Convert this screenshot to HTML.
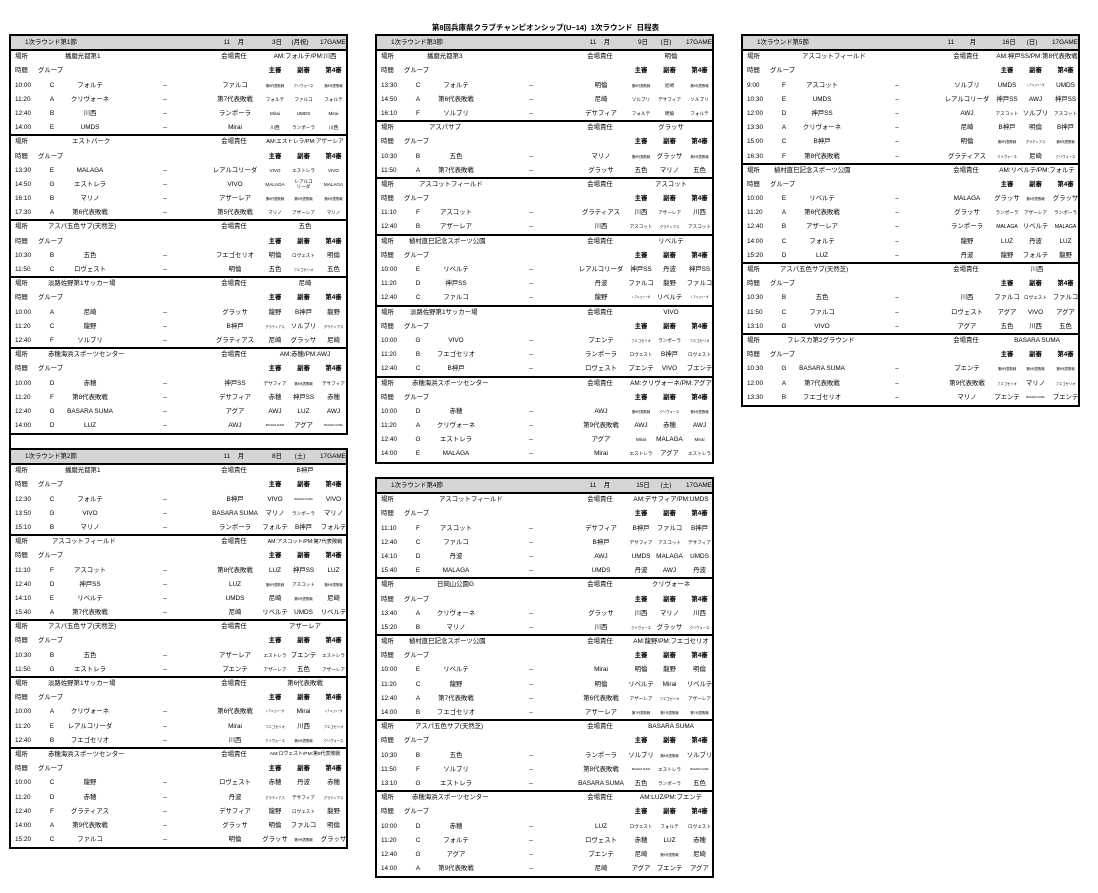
<!DOCTYPE html>
<html lang="ja">
<head>
<meta charset="utf-8">
<style>
html,body{margin:0;padding:0;background:#fff}
body{width:1098px;height:893px;position:relative;overflow:hidden;font-family:"Liberation Sans","Noto Sans CJK JP",sans-serif;font-size:6.4px;color:#000}
.T{position:absolute;width:335px;border:2px solid #000;overflow:hidden;background:#fff}
.hd{position:relative;height:14.2px;background:#d5d5d5}
.hd::after{content:"";position:absolute;left:0;right:0;bottom:-1px;height:2px;background:#000}
.r{position:relative;height:14.2px}
.k::before{content:"";position:absolute;left:0;right:0;top:-1px;height:2px;background:#000}
i{position:absolute;top:0;line-height:14.2px;font-style:normal;white-space:nowrap}
.t{left:4px}
.g,.h,.d,.a,.x,.y,.z,.vl,.vv,.mo,.mm,.dd,.wd{transform:translateX(-50%)}
.g{left:41px}.h{left:79px}.d{left:154px}.a{left:224px}.x{left:264px}.y{left:292.5px}.z{left:322.5px}
.gl{left:27px}.vl{left:223px}.vv{left:294px}
.n{left:14px}.mo{left:216px}.mm{left:230px}.dd{left:266px}.wd{left:289px}.gm{left:309px}
.b{font-weight:bold}
.q{font-size:4.6px}.w{font-size:3.3px}.e{font-size:2.6px}
.title{position:absolute;left:0;width:1091px;top:22px;line-height:11px;text-align:center;font-weight:bold;font-size:7.5px}
</style>
</head>
<body>
<div class="title">第8回兵庫県クラブチャンピオンシップ(U−14)&nbsp;&nbsp;1次ラウンド&nbsp;&nbsp;日程表</div>

<!-- L1 -->
<div class="T" style="left:9px;top:34px">
<div class="hd"><i class="n">1次ラウンド第1節</i><i class="mo">11</i><i class="mm">月</i><i class="dd">3日</i><i class="wd">(月祝)</i><i class="gm">17GAME</i></div>
<div class="r"><i class="t">場所</i><i style="left:54px">播磨光都第1</i><i class="vl">会場責任</i><i class="vv">AM:フォルテ/PM:川西</i></div>
<div class="r"><i class="t">時間</i><i class="gl">グループ</i><i class="x b">主審</i><i class="y b">副審</i><i class="z b">第4審</i></div>
<div class="r"><i class="t">10:00</i><i class="g">C</i><i class="h">フォルテ</i><i class="d">–</i><i class="a">ファルコ</i><i class="x w">第8代表敗戦</i><i class="y w">クリヴォーネ</i><i class="z w">第8代表敗戦</i></div>
<div class="r"><i class="t">11:20</i><i class="g">A</i><i class="h">クリヴォーネ</i><i class="d">–</i><i class="a">第7代表敗戦</i><i class="x q">フォルテ</i><i class="y q">ファルコ</i><i class="z q">フォルテ</i></div>
<div class="r"><i class="t">12:40</i><i class="g">B</i><i class="h">川西</i><i class="d">–</i><i class="a">ランポーラ</i><i class="x q">Mirai</i><i class="y q">UMDS</i><i class="z q">Mirai</i></div>
<div class="r"><i class="t">14:00</i><i class="g">E</i><i class="h">UMDS</i><i class="d">–</i><i class="a">Mirai</i><i class="x q">川西</i><i class="y q">ランポーラ</i><i class="z q">川西</i></div>
<div class="r k"><i class="t">場所</i><i style="left:61px">エストパーク</i><i class="vl">会場責任</i><i class="vv" style="font-size:5.6px">AM:エストレラ/PM:アザーレア</i></div>
<div class="r"><i class="t">時間</i><i class="gl">グループ</i><i class="x b">主審</i><i class="y b">副審</i><i class="z b">第4審</i></div>
<div class="r"><i class="t">13:30</i><i class="g">E</i><i class="h">MALAGA</i><i class="d">–</i><i class="a">レアルコリーダ</i><i class="x q">VIVO</i><i class="y q">エストレラ</i><i class="z q">VIVO</i></div>
<div class="r"><i class="t">14:50</i><i class="g">G</i><i class="h">エストレラ</i><i class="d">–</i><i class="a">VIVO</i><i class="x q">MALAGA</i><i class="y q" style="line-height:4.6px;top:2.5px;text-align:center">レアルコ<br>リーダ</i><i class="z q">MALAGA</i></div>
<div class="r"><i class="t">16:10</i><i class="g">B</i><i class="h">マリノ</i><i class="d">–</i><i class="a">アザーレア</i><i class="x w">第8代表敗戦</i><i class="y w">第8代表敗戦</i><i class="z w">第8代表敗戦</i></div>
<div class="r"><i class="t">17:30</i><i class="g">A</i><i class="h">第6代表敗戦</i><i class="d">–</i><i class="a">第5代表敗戦</i><i class="x q">マリノ</i><i class="y q">アザーレア</i><i class="z q">マリノ</i></div>
<div class="r k"><i class="t">場所</i><i style="left:37px">アスパ五色サブ(天然芝)</i><i class="vl">会場責任</i><i class="vv">五色</i></div>
<div class="r"><i class="t">時間</i><i class="gl">グループ</i><i class="x b">主審</i><i class="y b">副審</i><i class="z b">第4審</i></div>
<div class="r"><i class="t">10:30</i><i class="g">B</i><i class="h">五色</i><i class="d">–</i><i class="a">フエゴセリオ</i><i class="x">明倫</i><i class="y q">ロヴェスト</i><i class="z">明倫</i></div>
<div class="r"><i class="t">11:50</i><i class="g">C</i><i class="h">ロヴェスト</i><i class="d">–</i><i class="a">明倫</i><i class="x">五色</i><i class="y w">フエゴセリオ</i><i class="z">五色</i></div>
<div class="r k"><i class="t">場所</i><i style="left:37px">淡路佐野第1サッカー場</i><i class="vl">会場責任</i><i class="vv">尼崎</i></div>
<div class="r"><i class="t">時間</i><i class="gl">グループ</i><i class="x b">主審</i><i class="y b">副審</i><i class="z b">第4審</i></div>
<div class="r"><i class="t">10:00</i><i class="g">A</i><i class="h">尼崎</i><i class="d">–</i><i class="a">グラッサ</i><i class="x">龍野</i><i class="y">B神戸</i><i class="z">龍野</i></div>
<div class="r"><i class="t">11:20</i><i class="g">C</i><i class="h">龍野</i><i class="d">–</i><i class="a">B神戸</i><i class="x w">グラティアス</i><i class="y">ソルブリ</i><i class="z w">グラティアス</i></div>
<div class="r"><i class="t">12:40</i><i class="g">F</i><i class="h">ソルブリ</i><i class="d">–</i><i class="a">グラティアス</i><i class="x">尼崎</i><i class="y">グラッサ</i><i class="z">尼崎</i></div>
<div class="r k"><i class="t">場所</i><i style="left:37px">赤穂海浜スポーツセンター</i><i class="vl">会場責任</i><i class="vv">AM:赤穂/PM:AWJ</i></div>
<div class="r"><i class="t">時間</i><i class="gl">グループ</i><i class="x b">主審</i><i class="y b">副審</i><i class="z b">第4審</i></div>
<div class="r"><i class="t">10:00</i><i class="g">D</i><i class="h">赤穂</i><i class="d">–</i><i class="a">神戸SS</i><i class="x q">デサフィア</i><i class="y w">第8代表敗戦</i><i class="z q">デサフィア</i></div>
<div class="r"><i class="t">11:20</i><i class="g">F</i><i class="h">第8代表敗戦</i><i class="d">–</i><i class="a">デサフィア</i><i class="x">赤穂</i><i class="y">神戸SS</i><i class="z">赤穂</i></div>
<div class="r"><i class="t">12:40</i><i class="g">G</i><i class="h">BASARA SUMA</i><i class="d">–</i><i class="a">アグア</i><i class="x">AWJ</i><i class="y">LUZ</i><i class="z">AWJ</i></div>
<div class="r"><i class="t">14:00</i><i class="g">D</i><i class="h">LUZ</i><i class="d">–</i><i class="a">AWJ</i><i class="x e">BASARA SUMA</i><i class="y">アグア</i><i class="z e">BASARA SUMA</i></div>
</div>
<div style="position:absolute;left:9px;top:435px;width:2px;height:14px;background:#000"></div>

<!-- L2 -->
<div class="T" style="left:9px;top:448px">
<div class="hd"><i class="n">1次ラウンド第2節</i><i class="mo">11</i><i class="mm">月</i><i class="dd">8日</i><i class="wd">(土)</i><i class="gm">17GAME</i></div>
<div class="r"><i class="t">場所</i><i style="left:54px">播磨光都第1</i><i class="vl">会場責任</i><i class="vv">B神戸</i></div>
<div class="r"><i class="t">時間</i><i class="gl">グループ</i><i class="x b">主審</i><i class="y b">副審</i><i class="z b">第4審</i></div>
<div class="r"><i class="t">12:30</i><i class="g">C</i><i class="h">フォルテ</i><i class="d">–</i><i class="a">B神戸</i><i class="x">VIVO</i><i class="y e">BASARA SUMA</i><i class="z">VIVO</i></div>
<div class="r"><i class="t">13:50</i><i class="g">G</i><i class="h">VIVO</i><i class="d">–</i><i class="a">BASARA SUMA</i><i class="x">マリノ</i><i class="y q">ランポーラ</i><i class="z">マリノ</i></div>
<div class="r"><i class="t">15:10</i><i class="g">B</i><i class="h">マリノ</i><i class="d">–</i><i class="a">ランポーラ</i><i class="x">フォルテ</i><i class="y">B神戸</i><i class="z">フォルテ</i></div>
<div class="r k"><i class="t">場所</i><i style="left:41px">アスコットフィールド</i><i class="vl">会場責任</i><i class="vv" style="font-size:5.2px">AM:アスコット/PM:第7代表敗戦</i></div>
<div class="r"><i class="t">時間</i><i class="gl">グループ</i><i class="x b">主審</i><i class="y b">副審</i><i class="z b">第4審</i></div>
<div class="r"><i class="t">11:10</i><i class="g">F</i><i class="h">アスコット</i><i class="d">–</i><i class="a">第8代表敗戦</i><i class="x">LUZ</i><i class="y">神戸SS</i><i class="z">LUZ</i></div>
<div class="r"><i class="t">12:40</i><i class="g">D</i><i class="h">神戸SS</i><i class="d">–</i><i class="a">LUZ</i><i class="x w">第8代表敗戦</i><i class="y q">アスコット</i><i class="z w">第8代表敗戦</i></div>
<div class="r"><i class="t">14:10</i><i class="g">E</i><i class="h">リベルテ</i><i class="d">–</i><i class="a">UMDS</i><i class="x">尼崎</i><i class="y w">第8代表敗戦</i><i class="z">尼崎</i></div>
<div class="r"><i class="t">15:40</i><i class="g">A</i><i class="h">第7代表敗戦</i><i class="d">–</i><i class="a">尼崎</i><i class="x">リベルテ</i><i class="y">UMDS</i><i class="z">リベルテ</i></div>
<div class="r k"><i class="t">場所</i><i style="left:37px">アスパ五色サブ(天然芝)</i><i class="vl">会場責任</i><i class="vv">アザーレア</i></div>
<div class="r"><i class="t">時間</i><i class="gl">グループ</i><i class="x b">主審</i><i class="y b">副審</i><i class="z b">第4審</i></div>
<div class="r"><i class="t">10:30</i><i class="g">B</i><i class="h">五色</i><i class="d">–</i><i class="a">アザーレア</i><i class="x q">エストレラ</i><i class="y">プエンテ</i><i class="z q">エストレラ</i></div>
<div class="r"><i class="t">11:50</i><i class="g">G</i><i class="h">エストレラ</i><i class="d">–</i><i class="a">プエンテ</i><i class="x q">アザーレア</i><i class="y">五色</i><i class="z q">アザーレア</i></div>
<div class="r k"><i class="t">場所</i><i style="left:37px">淡路佐野第1サッカー場</i><i class="vl">会場責任</i><i class="vv">第6代表敗戦</i></div>
<div class="r"><i class="t">時間</i><i class="gl">グループ</i><i class="x b">主審</i><i class="y b">副審</i><i class="z b">第4審</i></div>
<div class="r"><i class="t">10:00</i><i class="g">A</i><i class="h">クリヴォーネ</i><i class="d">–</i><i class="a">第6代表敗戦</i><i class="x e">レアルコリーダ</i><i class="y">Mirai</i><i class="z e">レアルコリーダ</i></div>
<div class="r"><i class="t">11:20</i><i class="g">E</i><i class="h">レアルコリーダ</i><i class="d">–</i><i class="a">Mirai</i><i class="x w">フエゴセリオ</i><i class="y">川西</i><i class="z w">フエゴセリオ</i></div>
<div class="r"><i class="t">12:40</i><i class="g">B</i><i class="h">フエゴセリオ</i><i class="d">–</i><i class="a">川西</i><i class="x w">クリヴォーネ</i><i class="y w">第6代表敗戦</i><i class="z w">クリヴォーネ</i></div>
<div class="r k"><i class="t">場所</i><i style="left:37px">赤穂海浜スポーツセンター</i><i class="vl">会場責任</i><i class="vv" style="font-size:4.9px">AM:ロヴェスト/PM:第9代表敗戦</i></div>
<div class="r"><i class="t">時間</i><i class="gl">グループ</i><i class="x b">主審</i><i class="y b">副審</i><i class="z b">第4審</i></div>
<div class="r"><i class="t">10:00</i><i class="g">C</i><i class="h">龍野</i><i class="d">–</i><i class="a">ロヴェスト</i><i class="x">赤穂</i><i class="y">丹波</i><i class="z">赤穂</i></div>
<div class="r"><i class="t">11:20</i><i class="g">D</i><i class="h">赤穂</i><i class="d">–</i><i class="a">丹波</i><i class="x w">グラティアス</i><i class="y q">デサフィア</i><i class="z w">グラティアス</i></div>
<div class="r"><i class="t">12:40</i><i class="g">F</i><i class="h">グラティアス</i><i class="d">–</i><i class="a">デサフィア</i><i class="x">龍野</i><i class="y q">ロヴェスト</i><i class="z">龍野</i></div>
<div class="r"><i class="t">14:00</i><i class="g">A</i><i class="h">第9代表敗戦</i><i class="d">–</i><i class="a">グラッサ</i><i class="x">明倫</i><i class="y">ファルコ</i><i class="z">明倫</i></div>
<div class="r"><i class="t">15:20</i><i class="g">C</i><i class="h">ファルコ</i><i class="d">–</i><i class="a">明倫</i><i class="x">グラッサ</i><i class="y w">第9代表敗戦</i><i class="z">グラッサ</i></div>
</div>

<!-- M1 -->
<div class="T" style="left:375px;top:34px">
<div class="hd"><i class="n">1次ラウンド第3節</i><i class="mo">11</i><i class="mm">月</i><i class="dd">9日</i><i class="wd">(日)</i><i class="gm">17GAME</i></div>
<div class="r"><i class="t">場所</i><i style="left:50px">播磨光都第3</i><i class="vl">会場責任</i><i class="vv">明倫</i></div>
<div class="r"><i class="t">時間</i><i class="gl">グループ</i><i class="x b">主審</i><i class="y b">副審</i><i class="z b">第4審</i></div>
<div class="r"><i class="t">13:30</i><i class="g">C</i><i class="h">フォルテ</i><i class="d">–</i><i class="a">明倫</i><i class="x w">第8代表敗戦</i><i class="y q">尼崎</i><i class="z w">第8代表敗戦</i></div>
<div class="r"><i class="t">14:50</i><i class="g">A</i><i class="h">第6代表敗戦</i><i class="d">–</i><i class="a">尼崎</i><i class="x q">ソルブリ</i><i class="y q">デサフィア</i><i class="z q">ソルブリ</i></div>
<div class="r"><i class="t">16:10</i><i class="g">F</i><i class="h">ソルブリ</i><i class="d">–</i><i class="a">デサフィア</i><i class="x q">フォルテ</i><i class="y q">明倫</i><i class="z q">フォルテ</i></div>
<div class="r k"><i class="t">場所</i><i style="left:52px">アスパサブ</i><i class="vl">会場責任</i><i class="vv">グラッサ</i></div>
<div class="r"><i class="t">時間</i><i class="gl">グループ</i><i class="x b">主審</i><i class="y b">副審</i><i class="z b">第4審</i></div>
<div class="r"><i class="t">10:30</i><i class="g">B</i><i class="h">五色</i><i class="d">–</i><i class="a">マリノ</i><i class="x w">第8代表敗戦</i><i class="y">グラッサ</i><i class="z w">第8代表敗戦</i></div>
<div class="r"><i class="t">11:50</i><i class="g">A</i><i class="h">第7代表敗戦</i><i class="d">–</i><i class="a">グラッサ</i><i class="x">五色</i><i class="y">マリノ</i><i class="z">五色</i></div>
<div class="r k"><i class="t">場所</i><i style="left:42px">アスコットフィールド</i><i class="vl">会場責任</i><i class="vv">アスコット</i></div>
<div class="r"><i class="t">時間</i><i class="gl">グループ</i><i class="x b">主審</i><i class="y b">副審</i><i class="z b">第4審</i></div>
<div class="r"><i class="t">11:10</i><i class="g">F</i><i class="h">アスコット</i><i class="d">–</i><i class="a">グラティアス</i><i class="x">川西</i><i class="y q">アザーレア</i><i class="z">川西</i></div>
<div class="r"><i class="t">12:40</i><i class="g">B</i><i class="h">アザーレア</i><i class="d">–</i><i class="a">川西</i><i class="x q">アスコット</i><i class="y w">グラティアス</i><i class="z q">アスコット</i></div>
<div class="r k"><i class="t">場所</i><i style="left:32px">植村直巳記念スポーツ公園</i><i class="vl">会場責任</i><i class="vv">リベルテ</i></div>
<div class="r"><i class="t">時間</i><i class="gl">グループ</i><i class="x b">主審</i><i class="y b">副審</i><i class="z b">第4審</i></div>
<div class="r"><i class="t">10:00</i><i class="g">E</i><i class="h">リベルテ</i><i class="d">–</i><i class="a">レアルコリーダ</i><i class="x">神戸SS</i><i class="y">丹波</i><i class="z">神戸SS</i></div>
<div class="r"><i class="t">11:20</i><i class="g">D</i><i class="h">神戸SS</i><i class="d">–</i><i class="a">丹波</i><i class="x">ファルコ</i><i class="y">龍野</i><i class="z">ファルコ</i></div>
<div class="r"><i class="t">12:40</i><i class="g">C</i><i class="h">ファルコ</i><i class="d">–</i><i class="a">龍野</i><i class="x e">レアルコリーダ</i><i class="y">リベルテ</i><i class="z e">レアルコリーダ</i></div>
<div class="r k"><i class="t">場所</i><i style="left:33px">淡路佐野第1サッカー場</i><i class="vl">会場責任</i><i class="vv">VIVO</i></div>
<div class="r"><i class="t">時間</i><i class="gl">グループ</i><i class="x b">主審</i><i class="y b">副審</i><i class="z b">第4審</i></div>
<div class="r"><i class="t">10:00</i><i class="g">G</i><i class="h">VIVO</i><i class="d">–</i><i class="a">プエンテ</i><i class="x w">フエゴセリオ</i><i class="y q">ランポーラ</i><i class="z w">フエゴセリオ</i></div>
<div class="r"><i class="t">11:20</i><i class="g">B</i><i class="h">フエゴセリオ</i><i class="d">–</i><i class="a">ランポーラ</i><i class="x q">ロヴェスト</i><i class="y">B神戸</i><i class="z q">ロヴェスト</i></div>
<div class="r"><i class="t">12:40</i><i class="g">C</i><i class="h">B神戸</i><i class="d">–</i><i class="a">ロヴェスト</i><i class="x">プエンテ</i><i class="y">VIVO</i><i class="z">プエンテ</i></div>
<div class="r k"><i class="t">場所</i><i style="left:35px">赤穂海浜スポーツセンター</i><i class="vl">会場責任</i><i class="vv">AM:クリヴォーネ/PM:アグア</i></div>
<div class="r"><i class="t">時間</i><i class="gl">グループ</i><i class="x b">主審</i><i class="y b">副審</i><i class="z b">第4審</i></div>
<div class="r"><i class="t">10:00</i><i class="g">D</i><i class="h">赤穂</i><i class="d">–</i><i class="a">AWJ</i><i class="x w">第8代表敗戦</i><i class="y w">クリヴォーネ</i><i class="z w">第8代表敗戦</i></div>
<div class="r"><i class="t">11:20</i><i class="g">A</i><i class="h">クリヴォーネ</i><i class="d">–</i><i class="a">第9代表敗戦</i><i class="x">AWJ</i><i class="y">赤穂</i><i class="z">AWJ</i></div>
<div class="r"><i class="t">12:40</i><i class="g">G</i><i class="h">エストレラ</i><i class="d">–</i><i class="a">アグア</i><i class="x q">Mirai</i><i class="y">MALAGA</i><i class="z q">Mirai</i></div>
<div class="r"><i class="t">14:00</i><i class="g">E</i><i class="h">MALAGA</i><i class="d">–</i><i class="a">Mirai</i><i class="x q">エストレラ</i><i class="y">アグア</i><i class="z q">エストレラ</i></div>
</div>

<!-- M2 -->
<div class="T" style="left:375px;top:477px">
<div class="hd"><i class="n">1次ラウンド第4節</i><i class="mo">11</i><i class="mm">月</i><i class="dd">15日</i><i class="wd">(土)</i><i class="gm">17GAME</i></div>
<div class="r"><i class="t">場所</i><i style="left:62px">アスコットフィールド</i><i class="vl">会場責任</i><i class="vv">AM:デサフィア/PM:UMDS</i></div>
<div class="r"><i class="t">時間</i><i class="gl">グループ</i><i class="x b">主審</i><i class="y b">副審</i><i class="z b">第4審</i></div>
<div class="r"><i class="t">11:10</i><i class="g">F</i><i class="h">アスコット</i><i class="d">–</i><i class="a">デサフィア</i><i class="x">B神戸</i><i class="y">ファルコ</i><i class="z">B神戸</i></div>
<div class="r"><i class="t">12:40</i><i class="g">C</i><i class="h">ファルコ</i><i class="d">–</i><i class="a">B神戸</i><i class="x q">デサフィア</i><i class="y q">アスコット</i><i class="z q">デサフィア</i></div>
<div class="r"><i class="t">14:10</i><i class="g">D</i><i class="h">丹波</i><i class="d">–</i><i class="a">AWJ</i><i class="x">UMDS</i><i class="y">MALAGA</i><i class="z">UMDS</i></div>
<div class="r"><i class="t">15:40</i><i class="g">E</i><i class="h">MALAGA</i><i class="d">–</i><i class="a">UMDS</i><i class="x">丹波</i><i class="y">AWJ</i><i class="z">丹波</i></div>
<div class="r k"><i class="t">場所</i><i style="left:60px">日岡山公園G</i><i class="vl">会場責任</i><i class="vv">クリヴォーネ</i></div>
<div class="r"><i class="t">時間</i><i class="gl">グループ</i><i class="x b">主審</i><i class="y b">副審</i><i class="z b">第4審</i></div>
<div class="r"><i class="t">13:40</i><i class="g">A</i><i class="h">クリヴォーネ</i><i class="d">–</i><i class="a">グラッサ</i><i class="x">川西</i><i class="y">マリノ</i><i class="z">川西</i></div>
<div class="r"><i class="t">15:20</i><i class="g">B</i><i class="h">マリノ</i><i class="d">–</i><i class="a">川西</i><i class="x w">クリヴォーネ</i><i class="y">グラッサ</i><i class="z w">クリヴォーネ</i></div>
<div class="r k"><i class="t">場所</i><i style="left:32px">植村直巳記念スポーツ公園</i><i class="vl">会場責任</i><i class="vv">AM:龍野/PM:フエゴセリオ</i></div>
<div class="r"><i class="t">時間</i><i class="gl">グループ</i><i class="x b">主審</i><i class="y b">副審</i><i class="z b">第4審</i></div>
<div class="r"><i class="t">10:00</i><i class="g">E</i><i class="h">リベルテ</i><i class="d">–</i><i class="a">Mirai</i><i class="x">明倫</i><i class="y">龍野</i><i class="z">明倫</i></div>
<div class="r"><i class="t">11:20</i><i class="g">C</i><i class="h">龍野</i><i class="d">–</i><i class="a">明倫</i><i class="x">リベルテ</i><i class="y">Mirai</i><i class="z">リベルテ</i></div>
<div class="r"><i class="t">12:40</i><i class="g">A</i><i class="h">第7代表敗戦</i><i class="d">–</i><i class="a">第6代表敗戦</i><i class="x q">アザーレア</i><i class="y w">フエゴセリオ</i><i class="z q">アザーレア</i></div>
<div class="r"><i class="t">14:00</i><i class="g">B</i><i class="h">フエゴセリオ</i><i class="d">–</i><i class="a">アザーレア</i><i class="x w">第7代表敗戦</i><i class="y w">第7代表敗戦</i><i class="z w">第7代表敗戦</i></div>
<div class="r k"><i class="t">場所</i><i style="left:38px">アスパ五色サブ(天然芝)</i><i class="vl">会場責任</i><i class="vv">BASARA SUMA</i></div>
<div class="r"><i class="t">時間</i><i class="gl">グループ</i><i class="x b">主審</i><i class="y b">副審</i><i class="z b">第4審</i></div>
<div class="r"><i class="t">10:30</i><i class="g">B</i><i class="h">五色</i><i class="d">–</i><i class="a">ランポーラ</i><i class="x">ソルブリ</i><i class="y w">第8代表敗戦</i><i class="z">ソルブリ</i></div>
<div class="r"><i class="t">11:50</i><i class="g">F</i><i class="h">ソルブリ</i><i class="d">–</i><i class="a">第8代表敗戦</i><i class="x e">BASARA SUMA</i><i class="y q">エストレラ</i><i class="z e">BASARA SUMA</i></div>
<div class="r"><i class="t">13:10</i><i class="g">G</i><i class="h">エストレラ</i><i class="d">–</i><i class="a">BASARA SUMA</i><i class="x">五色</i><i class="y q">ランポーラ</i><i class="z">五色</i></div>
<div class="r k"><i class="t">場所</i><i style="left:35px">赤穂海浜スポーツセンター</i><i class="vl">会場責任</i><i class="vv">AM:LUZ/PM:プエンテ</i></div>
<div class="r"><i class="t">時間</i><i class="gl">グループ</i><i class="x b">主審</i><i class="y b">副審</i><i class="z b">第4審</i></div>
<div class="r"><i class="t">10:00</i><i class="g">D</i><i class="h">赤穂</i><i class="d">–</i><i class="a">LUZ</i><i class="x q">ロヴェスト</i><i class="y q">フォルテ</i><i class="z q">ロヴェスト</i></div>
<div class="r"><i class="t">11:20</i><i class="g">C</i><i class="h">フォルテ</i><i class="d">–</i><i class="a">ロヴェスト</i><i class="x">赤穂</i><i class="y">LUZ</i><i class="z">赤穂</i></div>
<div class="r"><i class="t">12:40</i><i class="g">G</i><i class="h">アグア</i><i class="d">–</i><i class="a">プエンテ</i><i class="x">尼崎</i><i class="y w">第9代表敗戦</i><i class="z">尼崎</i></div>
<div class="r"><i class="t">14:00</i><i class="g">A</i><i class="h">第9代表敗戦</i><i class="d">–</i><i class="a">尼崎</i><i class="x">アグア</i><i class="y">プエンテ</i><i class="z">アグア</i></div>
</div>

<!-- R -->
<div class="T" style="left:741px;top:34px">
<div class="hd"><i class="n">1次ラウンド第5節</i><i class="mo" style="left:208px">11</i><i class="mm">月</i><i class="dd">16日</i><i class="wd">(日)</i><i class="gm">17GAME</i></div>
<div class="r"><i class="t">場所</i><i style="left:59px">アスコットフィールド</i><i class="vl">会場責任</i><i class="vv">AM:神戸SS/PM:第8代表敗戦</i></div>
<div class="r"><i class="t">時間</i><i class="gl">グループ</i><i class="x b">主審</i><i class="y b">副審</i><i class="z b">第4審</i></div>
<div class="r"><i class="t">9:00</i><i class="g">F</i><i class="h">アスコット</i><i class="d">–</i><i class="a">ソルブリ</i><i class="x">UMDS</i><i class="y e">レアルコリーダ</i><i class="z">UMDS</i></div>
<div class="r"><i class="t">10:30</i><i class="g">E</i><i class="h">UMDS</i><i class="d">–</i><i class="a">レアルコリーダ</i><i class="x">神戸SS</i><i class="y">AWJ</i><i class="z">神戸SS</i></div>
<div class="r"><i class="t">12:00</i><i class="g">D</i><i class="h">神戸SS</i><i class="d">–</i><i class="a">AWJ</i><i class="x q">アスコット</i><i class="y">ソルブリ</i><i class="z q">アスコット</i></div>
<div class="r"><i class="t">13:30</i><i class="g">A</i><i class="h">クリヴォーネ</i><i class="d">–</i><i class="a">尼崎</i><i class="x">B神戸</i><i class="y">明倫</i><i class="z">B神戸</i></div>
<div class="r"><i class="t">15:00</i><i class="g">C</i><i class="h">B神戸</i><i class="d">–</i><i class="a">明倫</i><i class="x w">第8代表敗戦</i><i class="y w">グラティアス</i><i class="z w">第8代表敗戦</i></div>
<div class="r"><i class="t">16:30</i><i class="g">F</i><i class="h">第8代表敗戦</i><i class="d">–</i><i class="a">グラティアス</i><i class="x w">クリヴォーネ</i><i class="y">尼崎</i><i class="z w">クリヴォーネ</i></div>
<div class="r k"><i class="t">場所</i><i style="left:31px">植村直巳記念スポーツ公園</i><i class="vl">会場責任</i><i class="vv">AM:リベルテ/PM:フォルテ</i></div>
<div class="r"><i class="t">時間</i><i class="gl">グループ</i><i class="x b">主審</i><i class="y b">副審</i><i class="z b">第4審</i></div>
<div class="r"><i class="t">10:00</i><i class="g">E</i><i class="h">リベルテ</i><i class="d">–</i><i class="a">MALAGA</i><i class="x">グラッサ</i><i class="y w">第6代表敗戦</i><i class="z">グラッサ</i></div>
<div class="r"><i class="t">11:20</i><i class="g">A</i><i class="h">第6代表敗戦</i><i class="d">–</i><i class="a">グラッサ</i><i class="x q">ランポーラ</i><i class="y q">アザーレア</i><i class="z q">ランポーラ</i></div>
<div class="r"><i class="t">12:40</i><i class="g">B</i><i class="h">アザーレア</i><i class="d">–</i><i class="a">ランポーラ</i><i class="x" style="font-size:5.2px">MALAGA</i><i class="y">リベルテ</i><i class="z" style="font-size:5.2px">MALAGA</i></div>
<div class="r"><i class="t">14:00</i><i class="g">C</i><i class="h">フォルテ</i><i class="d">–</i><i class="a">龍野</i><i class="x">LUZ</i><i class="y">丹波</i><i class="z">LUZ</i></div>
<div class="r"><i class="t">15:20</i><i class="g">D</i><i class="h">LUZ</i><i class="d">–</i><i class="a">丹波</i><i class="x">龍野</i><i class="y">フォルテ</i><i class="z">龍野</i></div>
<div class="r k"><i class="t">場所</i><i style="left:37px">アスパ五色サブ(天然芝)</i><i class="vl">会場責任</i><i class="vv">川西</i></div>
<div class="r"><i class="t">時間</i><i class="gl">グループ</i><i class="x b">主審</i><i class="y b">副審</i><i class="z b">第4審</i></div>
<div class="r"><i class="t">10:30</i><i class="g">B</i><i class="h">五色</i><i class="d">–</i><i class="a">川西</i><i class="x">ファルコ</i><i class="y q">ロヴェスト</i><i class="z">ファルコ</i></div>
<div class="r"><i class="t">11:50</i><i class="g">C</i><i class="h">ファルコ</i><i class="d">–</i><i class="a">ロヴェスト</i><i class="x">アグア</i><i class="y">VIVO</i><i class="z">アグア</i></div>
<div class="r"><i class="t">13:10</i><i class="g">G</i><i class="h">VIVO</i><i class="d">–</i><i class="a">アグア</i><i class="x">五色</i><i class="y">川西</i><i class="z">五色</i></div>
<div class="r k"><i class="t">場所</i><i style="left:44px">フレスカ第2グラウンド</i><i class="vl">会場責任</i><i class="vv">BASARA SUMA</i></div>
<div class="r"><i class="t">時間</i><i class="gl">グループ</i><i class="x b">主審</i><i class="y b">副審</i><i class="z b">第4審</i></div>
<div class="r"><i class="t">10:30</i><i class="g">G</i><i class="h">BASARA SUMA</i><i class="d">–</i><i class="a">プエンテ</i><i class="x w">第8代表敗戦</i><i class="y w">第8代表敗戦</i><i class="z w">第8代表敗戦</i></div>
<div class="r"><i class="t">12:00</i><i class="g">A</i><i class="h">第7代表敗戦</i><i class="d">–</i><i class="a">第9代表敗戦</i><i class="x w">フエゴセリオ</i><i class="y">マリノ</i><i class="z w">フエゴセリオ</i></div>
<div class="r"><i class="t">13:30</i><i class="g">B</i><i class="h">フエゴセリオ</i><i class="d">–</i><i class="a">マリノ</i><i class="x">プエンテ</i><i class="y e">BASARA SUMA</i><i class="z">プエンテ</i></div>
</div>
</body>
</html>
